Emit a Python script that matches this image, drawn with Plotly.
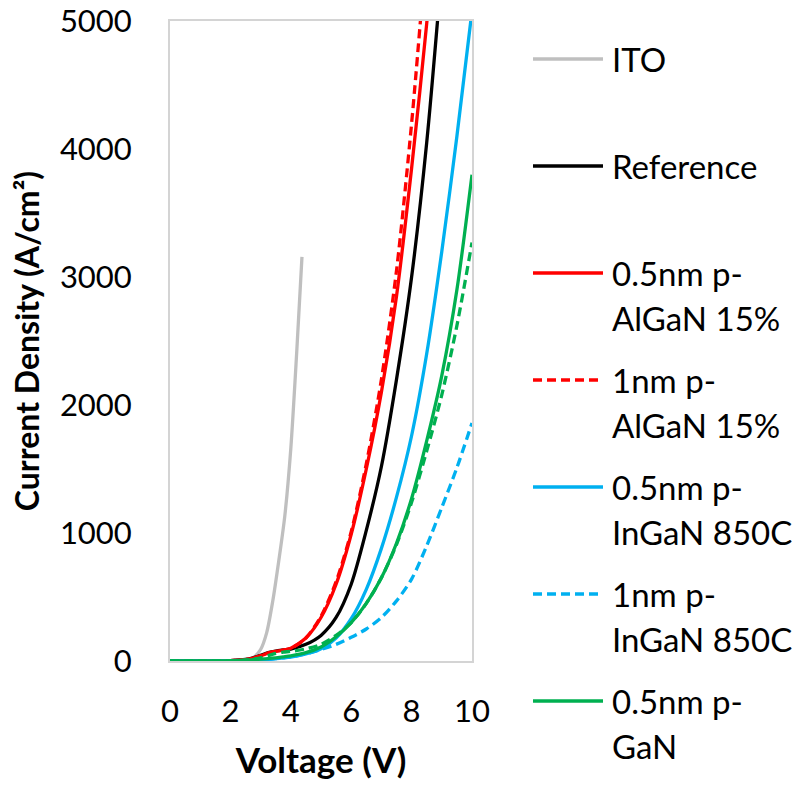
import plotly.graph_objects as go

# ---------------- data ----------------
ito_v = [0, 0.5, 1, 1.5, 2, 2.5, 2.75, 3.0, 3.2, 3.4, 3.6, 3.8, 4.0, 4.2, 4.37]
ito_j = [0, 0, 0, 0, 1, 5, 25, 90, 220, 465, 780, 1130, 1660, 2430, 3157]

voltage = [0, 0.5, 1, 1.5, 2, 2.5, 2.75, 3, 3.25, 3.5, 3.75, 4, 4.5, 5, 5.5, 6,
           6.5, 7, 7.5, 8, 8.5, 9, 9.5, 10]

reference = [0, 0, 0, 0, 3, 12, 25, 45, 65, 78, 86, 93, 130, 200, 340, 600,
             1020, 1520, 2200, 3000, 4050, 5400, None, None]
algan_05 = [0, 0, 0, 0, 2, 10, 22, 40, 62, 75, 85, 100, 180, 340, 600, 990,
            1500, 2100, 2850, 3850, 4980, 6300, None, None]
algan_1 = [0, 0, 0, 0, 2, 10, 22, 40, 62, 75, 85, 98, 180, 350, 620, 1010,
           1540, 2200, 3050, 4200, 5600, None, None, None]
ingan_05 = [0, 0, 0, 0, 1, 3, 5, 8, 12, 18, 24, 30, 55, 95, 180, 330,
            560, 880, 1280, 1760, 2400, 3200, 4100, 5080]
ingan_1 = [0, 0, 0, 0, 1, 3, 5, 8, 12, 18, 25, 32, 55, 90, 130, 185,
           250, 340, 470, 640, 900, 1200, 1510, 1860]
gan_05 = [0, 0, 0, 0, 2, 6, 10, 14, 19, 25, 32, 40, 65, 110, 190, 300,
          450, 650, 920, 1270, 1720, 2230, 2900, 3800]
gan_1 = [0, 0, 0, 0, 2, 8, 15, 25, 42, 60, 70, 75, 95, 130, 200, 300,
         450, 650, 910, 1240, 1640, 2080, 2620, 3270]

series_names = ["ITO", "Reference", "0.5nm p-AlGaN 15%", "1nm p-AlGaN 15%",
                "0.5nm p-InGaN 850C", "1nm p-InGaN 850C", "0.5nm p-GaN", "1nm p-GaN"]
legend_labels = ["ITO", "Reference", "0.5nm p-<br>AlGaN 15%", "1nm p-<br>AlGaN 15%",
                 "0.5nm p-<br>InGaN 850C", "1nm p-<br>InGaN 850C", "0.5nm p-<br>GaN"]
colors = ["#BFBFBF", "#000000", "#FF0000", "#FF0000", "#00B0F0", "#00B0F0", "#00B050", "#00B050"]
dashes = ["solid", "solid", "solid", "9px,5px", "solid", "9px,5px", "solid", "9px,5px"]

x_ticks = [0, 2, 4, 6, 8, 10]
y_ticks = [0, 1000, 2000, 3000, 4000, 5000]

# ---------------- figure ----------------
xs = [ito_v] + [voltage] * 7
ys = [ito_j, reference, algan_05, algan_1, ingan_05, ingan_1, gan_05, gan_1]
draw_order = [0, 1, 2, 3, 4, 5, 7, 6]

fig = go.Figure()
for i in draw_order:
    fig.add_trace(go.Scatter(
        x=xs[i], y=ys[i], name=series_names[i], mode="lines",
        line=dict(color=colors[i], width=3.3, dash=dashes[i], shape="spline", smoothing=0.8),
        showlegend=False,
    ))

L, R, T, B = 170, 322, 21, 124
W, H = 794, 785
pw, ph = W - L - R, H - T - B

def px_x(p):
    return (p - L) / pw

def px_y(p):
    return (H - B - p) / ph

# manual legend (Excel-style long line samples)
font_leg = dict(family="Lato", size=33, color="#000000")
for k, lab in enumerate(legend_labels):
    yc = 59 + 107 * k
    fig.add_shape(type="line", xref="paper", yref="paper",
                  x0=px_x(533), x1=px_x(603), y0=px_y(yc), y1=px_y(yc),
                  line=dict(color=colors[k], width=3.3, dash=dashes[k]))
    for j, part in enumerate(lab.split("<br>")):
        fig.add_annotation(xref="paper", yref="paper", x=px_x(610), y=px_y(yc + 45 * j),
                           xanchor="left", yanchor="middle", text=part, showarrow=False,
                           font=font_leg)

axis_common = dict(showgrid=False, zeroline=False, showline=True, mirror=True,
                   linecolor="#D4D4D4", linewidth=2, ticks="", layer="below traces",
                   ticklabeloverflow="allow", automargin=False,
                   tickfont=dict(family="Lato", size=31, color="#000000"))

fig.update_layout(
    width=W, height=H,
    margin=dict(l=L, r=R, t=T, b=B, pad=0, autoexpand=False),
    paper_bgcolor="white", plot_bgcolor="white",
    showlegend=False,
    xaxis=dict(range=[0, 10], tickvals=x_ticks, ticklabelstandoff=22,
               title=dict(text="Voltage (V)", standoff=20,
                          font=dict(family="Lato", size=35, color="#000000", weight="bold")),
               **axis_common),
    yaxis=dict(range=[0, 5000.5], tickvals=y_ticks, ticklabelstandoff=30,
               title=dict(text="Current Density (A/cm²)", standoff=11,
                          font=dict(family="Lato", size=32, color="#000000", weight="bold")),
               **axis_common),
)

fig.write_html("out.html")
